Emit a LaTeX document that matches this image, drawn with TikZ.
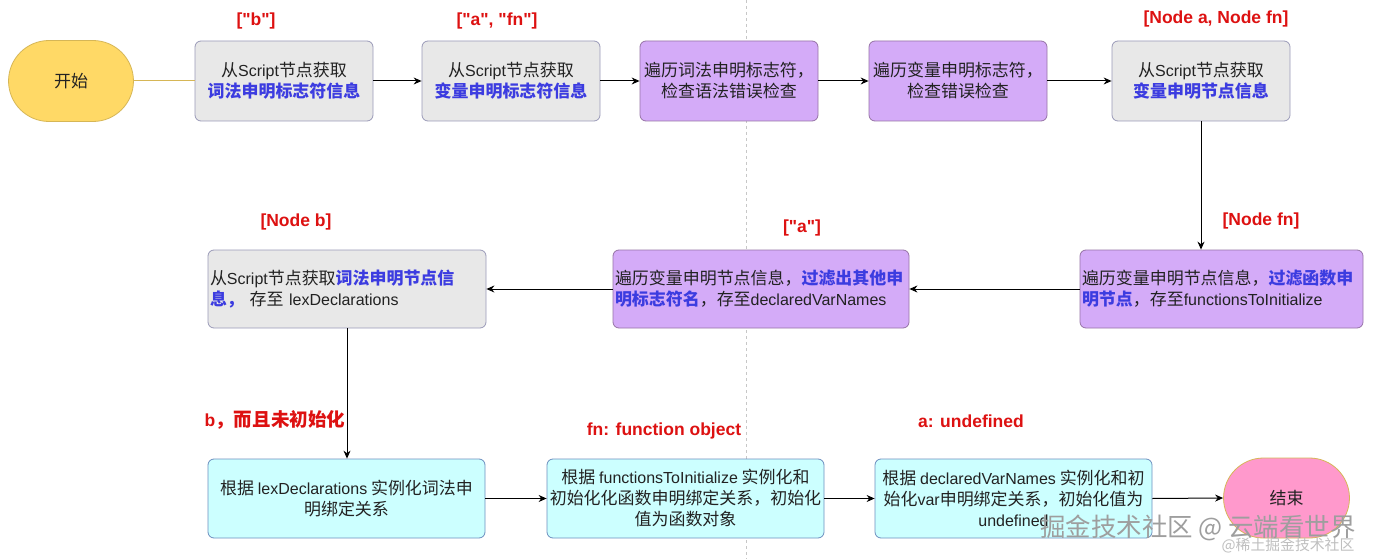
\documentclass[tikz,border=0pt]{standalone}
\usepackage{fontspec}
\setmainfont{Noto Sans CJK SC}[Scale=1.06]
\newfontfamily\lat{Liberation Sans}
\usetikzlibrary{arrows.meta,shapes.misc}
\definecolor{startfill}{HTML}{FFD966}
\definecolor{startline}{HTML}{D6B656}
\definecolor{grayfill}{HTML}{E8E8E8}
\definecolor{grayline}{HTML}{9A9AB8}
\definecolor{purfill}{HTML}{D4ABF8}
\definecolor{purline}{HTML}{9673A6}
\definecolor{cyanfill}{HTML}{CCFFFF}
\definecolor{cyanline}{HTML}{6C8EBF}
\definecolor{pinkfill}{HTML}{FF99CC}
\definecolor{bluetxt}{HTML}{3C3CE0}
\definecolor{redtxt}{HTML}{DD1111}
\definecolor{txt}{HTML}{222222}
\newcommand{\hb}[1]{{\bfseries\color{bluetxt}#1}}
\begin{document}
\begin{tikzpicture}[x=1pt,y=-1pt,
  box/.style={draw, rounded corners=6pt, line width=0.8pt, align=center, text=txt,
    font=\fontsize{16}{21}\selectfont, inner sep=2pt, minimum height=80pt},
  graybox/.style={box, fill=grayfill, draw=grayline},
  purbox/.style={box, fill=purfill, draw=purline},
  cyanbox/.style={box, fill=cyanfill, draw=cyanline},
  leftbox/.style={align=left},
  term/.style={draw=startline, line width=0.8pt, rounded rectangle, text=txt,
    font=\fontsize{16}{21}\selectfont, minimum height=81pt},
  redlab/.style={text=redtxt, font=\fontsize{17.5}{21}\selectfont\bfseries, inner sep=1pt},
  arr/.style={-{Stealth[length=8pt,width=7pt]}, line width=1pt, black},
  wm/.style={inner sep=0pt}
]
\useasboundingbox (0,0) rectangle (1374,559);
\fill[white] (0,0) rectangle (1374,559);
\draw[dashed, draw=black!22, line width=0.6pt] (746,0) -- (746,559);

% top row
\node[term, fill=startfill, minimum width=132pt] (start) at (71,81) {开始};
\node[graybox, minimum width=178pt] (b1) at (284,81) {从{\lat Script}节点获取\\\hb{词法申明标志符信息}};
\node[graybox, minimum width=178pt] (b2) at (511,81) {从{\lat Script}节点获取\\\hb{变量申明标志符信息}};
\node[purbox, minimum width=178pt] (b3) at (729,81) {遍历词法申明标志符，\\检查语法错误检查};
\node[purbox, minimum width=178pt] (b4) at (958,81) {遍历变量申明标志符，\\检查错误检查};
\node[graybox, minimum width=178pt] (b5) at (1201,81) {从{\lat Script}节点获取\\\hb{变量申明节点信息}};

% middle row
\node[purbox, leftbox, minimum width=283pt, minimum height=78pt, text width=279pt] (b6) at (1221.5,289)
  {遍历变量申明节点信息，\hb{过滤函数申}\\\hb{明节点}，存至{\lat functionsToInitialize}};
\node[purbox, leftbox, minimum width=296pt, minimum height=78pt, text width=292pt] (b7) at (761,289)
  {遍历变量申明节点信息，\hb{过滤出其他申}\\\hb{明标志符名}，存至{\lat declaredVarNames}};
\node[graybox, leftbox, minimum width=278pt, minimum height=78pt, text width=274pt] (b8) at (347,289)
  {从{\lat Script}节点获取\hb{词法申明节点信}\\\hb{息，} 存至 {\lat lexDeclarations}};

% bottom row
\node[cyanbox, minimum width=277pt, minimum height=79pt] (b9) at (346.5,498.5)
  {根据 {\lat lexDeclarations} 实例化词法申\\明绑定关系};
\node[cyanbox, minimum width=277pt, minimum height=79pt] (b10) at (685.5,498.5)
  {根据 {\lat functionsToInitialize} 实例化和\\初始化化函数申明绑定关系，初始化\\值为函数对象};
\node[cyanbox, minimum width=277pt, minimum height=79pt] (b11) at (1013.5,498.5)
  {根据 {\lat declaredVarNames} 实例化和初\\始化{\lat var}申明绑定关系，初始化值为\\{\lat undefined}};
\node[term, fill=pinkfill, minimum width=133pt, minimum height=80pt] (end) at (1286.5,498) {结束};

% labels
\node[redlab] (l1) at (256,21) {\lat ["b"]};
\node[redlab] (l2) at (497,21) {\lat ["a", "fn"]};
\node[redlab] (l3) at (1216,19) {\lat [Node a, Node fn]};
\node[redlab] (l4) at (1261,221) {\lat [Node fn]};
\node[redlab] (l5) at (802,228) {\lat ["a"]};
\node[redlab] (l6) at (296,222) {\lat [Node b]};
\node[redlab] (l7) at (275,420) {{\lat b}，而且未初始化};
\node[redlab] (l8) at (664,431) {\lat fn: function object};
\node[redlab] (l9) at (971,421) {\lat a: undefined};

% connectors
\draw[draw=startline, line width=1pt] (start.east) -- (b1.west);
\draw[arr] (b1.east) -- (b2.west);
\draw[arr] (b2.east) -- (b3.west);
\draw[arr] (b3.east) -- (b4.west);
\draw[arr] (b4.east) -- (b5.west);
\draw[arr] (b5.south) -- (b5.south |- b6.north);
\draw[arr] (b6.west) -- (b7.east);
\draw[arr] (b7.west) -- (b8.east);
\draw[arr] (b8.south) -- (b8.south |- b9.north);
\draw[arr] (b9.east) -- (b10.west);
\draw[arr] (b10.east) -- (b11.west);
\draw[arr] (b11.east) -- (end.west);

% watermark
\node[wm, text=black!38, font=\fontsize{24}{26}\selectfont] (wm1) at (1198,528) {掘金技术社区 @ 云端看世界};
\node[wm, text=black!25, font=\fontsize{14}{16}\selectfont] (wm2) at (1288,545) {@稀土掘金技术社区};
\end{tikzpicture}
\end{document}
